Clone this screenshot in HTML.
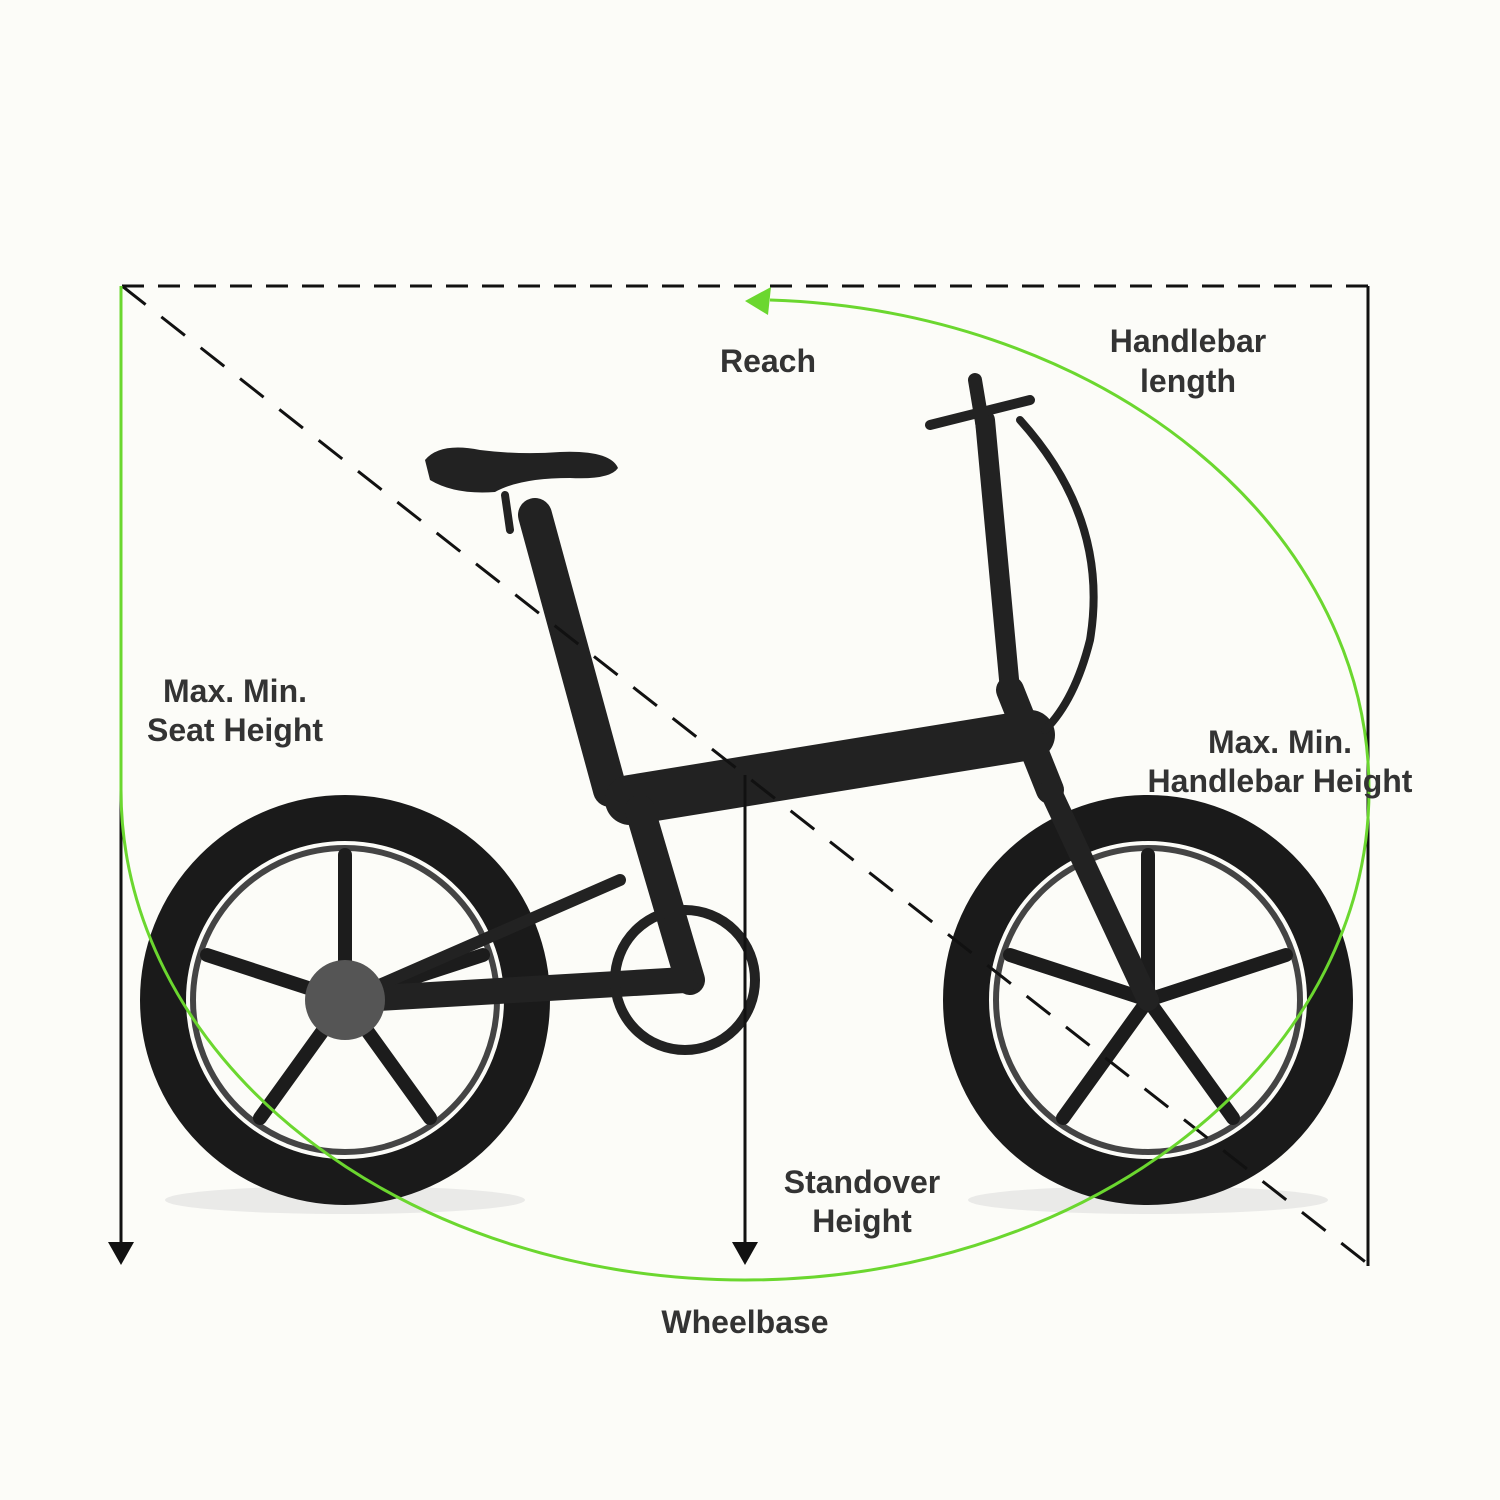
<!DOCTYPE html>
<html><head><meta charset="utf-8"><style>
html,body{margin:0;padding:0;background:#fcfcf8;}
svg{display:block}
text{font-family:"Liberation Sans",sans-serif;font-size:32px;font-weight:bold;fill:#333;text-anchor:middle}
</style></head><body>
<svg width="1500" height="1500" viewBox="0 0 1500 1500" xmlns="http://www.w3.org/2000/svg">
<rect width="1500" height="1500" fill="#fcfcf8"/>
<g>
 <ellipse cx="345" cy="1200" rx="180" ry="14" fill="#ddd" opacity="0.6"/>
 <ellipse cx="1148" cy="1200" rx="180" ry="14" fill="#ddd" opacity="0.6"/>
 <circle cx="345" cy="1000" r="182" fill="none" stroke="#1a1a1a" stroke-width="46"/>
 <circle cx="345" cy="1000" r="152" fill="none" stroke="#444" stroke-width="6"/>
 <circle cx="1148" cy="1000" r="182" fill="none" stroke="#1a1a1a" stroke-width="46"/>
 <circle cx="1148" cy="1000" r="152" fill="none" stroke="#444" stroke-width="6"/>
 <g stroke="#1c1c1c" stroke-width="14" stroke-linecap="round">
  <line x1="345" y1="1000" x2="345" y2="855"/><line x1="345" y1="1000" x2="483" y2="955"/>
  <line x1="345" y1="1000" x2="430" y2="1118"/><line x1="345" y1="1000" x2="260" y2="1118"/>
  <line x1="345" y1="1000" x2="207" y2="955"/>
  <line x1="1148" y1="1000" x2="1148" y2="855"/><line x1="1148" y1="1000" x2="1286" y2="955"/>
  <line x1="1148" y1="1000" x2="1233" y2="1118"/><line x1="1148" y1="1000" x2="1063" y2="1118"/>
  <line x1="1148" y1="1000" x2="1010" y2="955"/>
 </g>
 <g stroke="#222" stroke-linecap="round" fill="none">
  <line x1="535" y1="515" x2="610" y2="790" stroke-width="34"/>
  <line x1="630" y1="800" x2="1030" y2="735" stroke-width="50"/>
  <line x1="640" y1="810" x2="690" y2="980" stroke-width="30"/>
  <line x1="345" y1="1000" x2="685" y2="980" stroke-width="26"/>
  <line x1="345" y1="1000" x2="620" y2="880" stroke-width="12"/>
  <line x1="985" y1="420" x2="1010" y2="690" stroke-width="20"/>
  <line x1="1010" y1="690" x2="1050" y2="790" stroke-width="28"/>
  <line x1="1050" y1="790" x2="1148" y2="1000" stroke-width="22"/>
  <line x1="975" y1="380" x2="985" y2="440" stroke-width="14"/>
  <line x1="930" y1="425" x2="1030" y2="400" stroke-width="10"/>
  <path d="M1020 420 Q1110 520 1090 640 Q1075 700 1045 730" stroke-width="8"/>
  <circle cx="685" cy="980" r="70" stroke-width="10"/>
  <line x1="505" y1="495" x2="510" y2="530" stroke-width="8"/>
 </g>
 <path d="M425 460 Q440 442 480 450 Q520 455 560 452 Q610 450 618 468 Q610 480 570 478 Q520 478 495 492 Q455 495 430 480 Z" fill="#222"/>
 <circle cx="345" cy="1000" r="40" fill="#555"/>
</g>
<g stroke="#111" stroke-width="3" fill="none">
 <line x1="122" y1="286" x2="1368" y2="286" stroke-dasharray="22 14"/>
 <line x1="122" y1="286" x2="1368" y2="1264" stroke-dasharray="30 20"/>
 <line x1="1368" y1="286" x2="1368" y2="1266"/>
 <line x1="121" y1="790" x2="121" y2="1245"/>
 <line x1="745" y1="775" x2="745" y2="1245"/>
</g>
<polygon points="108,1242 134,1242 121,1265" fill="#111"/>
<polygon points="732,1242 758,1242 745,1265" fill="#111"/>
<g stroke="#6bd72f" stroke-width="3" fill="none">
 <line x1="121" y1="286" x2="121" y2="790"/>
 <path d="M121 790 A624 490 0 0 0 745 1280 A624 490 0 0 0 1369 790 A624 490 0 0 0 770 300"/>
</g>
<polygon points="745,301 771,287 768,315" fill="#6bd72f"/>
<text x="768" y="372">Reach</text>
<text x="1188" y="352">Handlebar</text>
<text x="1188" y="392">length</text>
<text x="235" y="702">Max. Min.</text>
<text x="235" y="741">Seat Height</text>
<text x="1280" y="753">Max. Min.</text>
<text x="1280" y="792">Handlebar Height</text>
<text x="862" y="1193">Standover</text>
<text x="862" y="1232">Height</text>
<text x="745" y="1333">Wheelbase</text>
</svg>
</body></html>
